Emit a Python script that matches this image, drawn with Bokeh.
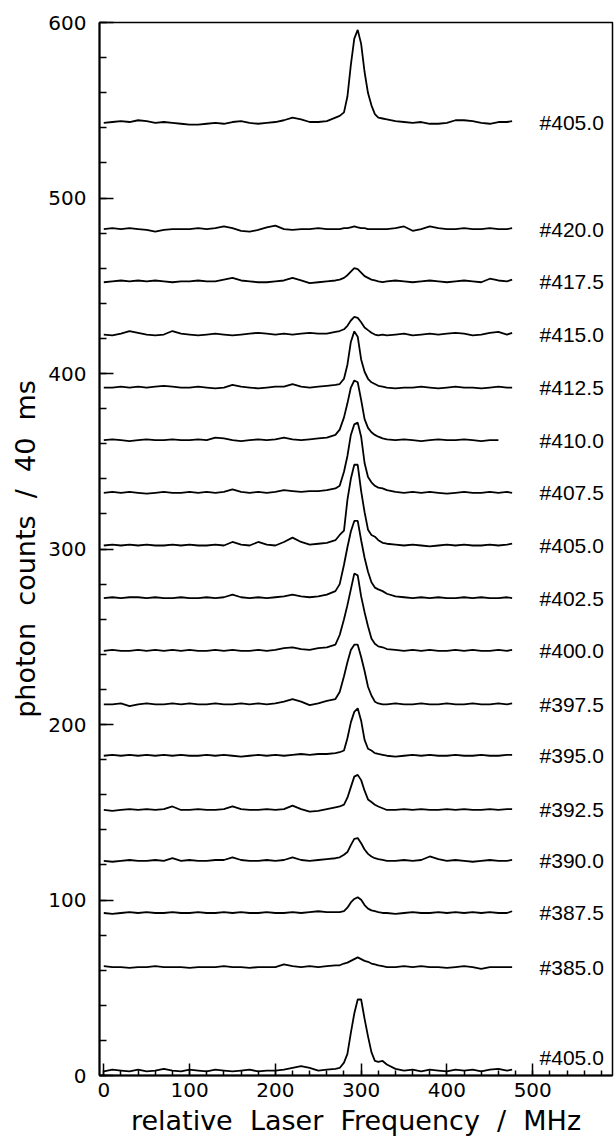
from bokeh.plotting import figure
from bokeh.models import Range1d, SingleIntervalTicker, ColumnDataSource
from bokeh.core.properties import value
from bokeh.embed import file_html
from bokeh.resources import INLINE

nan = float("nan")

# relative laser frequency (MHz) sample points
freq = [0, 10, 20, 30, 40, 50, 60, 70, 80, 90, 100, 110, 120, 130, 140, 150, 160, 170, 180, 190,
        200, 210, 220, 230, 240, 250, 260, 270,
        275, 280, 284, 288, 292, 296, 300, 304, 308, 312, 316, 320, 325,
        330, 340, 350, 360, 370, 380, 390, 400, 410, 420, 430, 440, 450, 460, 470, 476]

# run labels (top to bottom) and trace baselines (photon counts)
labels = ["#405.0", "#420.0", "#417.5", "#415.0", "#412.5", "#410.0", "#407.5", "#405.0",
          "#402.5", "#400.0", "#397.5", "#395.0", "#392.5", "#390.0", "#387.5", "#385.0", "#405.0"]
baselines = [542.8, 482.3, 452.5, 422.2, 392.0, 362.0, 332.0, 302.0,
             272.0, 242.0, 211.5, 182.2, 151.3, 122.3, 92.6, 61.8, 2.3]

# counts above baseline for each run
run_405_0_top = [0, 0.5, 1, 0.5, 1.5, 1, 0, 0.5, 0, -0.5, -1, -1, -0.5, 0, -0.5, 0.5, 1, 0, -0.5, 0,
                 0.5, 1.5, 3, 2, 0.5, 0.5, 1, 3,
                 4, 6, 15, 33, 48, 53, 45, 29, 17, 10, 5, 3, 2.5,
                 2, 1, 0.5, 0, 0.5, -0.5, -0.5, 0, 1.5, 1.5, 1, 0, -0.5, 0.5, 0.5, 1]
run_420_0 = [0, 0.5, 0, 0.5, 0, -0.5, -1.5, -0.5, 0, 0, 0, 0.5, 0, 0.5, 1.5, 0.5, -1, -1.5, -0.5, 1,
             2, 0, -0.5, 0, 0, 0.5, 0, 0,
             0, 0.5, 0.5, 1, 1.5, 1, 0.5, 0.5, 0, 0, 0, 0, 0,
             0, 0.5, 1.5, -1, 0, 1.5, 0.5, 0, 0, 0.5, 0, 0, 0.5, 0, 0, 0.5]
run_417_5 = [-0.5, 0, 0.5, 0, 0.5, 0, 0.5, 0, -0.5, 0, 0, 0.5, 0, 0, 1, 2, 0.5, 0, -0.5, -0.5,
             0, 0.5, 2, 0.5, -1, -0.5, 0, 0.5,
             1, 2, 3.5, 5.5, 7.5, 7, 5, 3, 2, 1, 0.5, 0, -0.5,
             0, 0.5, 0, -0.5, 0, 0.5, 0, -0.5, 0, 0.5, 0, -0.5, 1.5, 0.5, 0, 1]
run_415_0 = [0, -0.5, 0.5, 2, 1, 0, -0.5, 0, 2, 0.5, 0, -0.5, 0, 0.5, 0, -0.5, 0, 0.5, 1, 0.5,
             0, 0.5, 0, 0.5, 1, 0.5, 0.5, 1.5,
             2, 3, 5, 8, 10, 9.5, 7, 4, 2.5, 1, 0, -0.5, 0,
             -0.5, 0, 0.5, -0.5, 0, 0.5, 0, 0.5, 1, 0.5, -0.5, 0, 1, 1.5, 0, 1]
run_412_5 = [0, 0, 0.5, 0, 0.5, 0, 0.5, 1, 0.5, 0, 0, 0.5, 0, -0.5, 0, 1.5, 0.5, 0, -0.5, 0,
             0.5, 0.5, 2, 0.5, 0, 0.5, 1, 1.5,
             2, 5, 13, 26, 32, 29, 16, 9, 5, 3, 2, 1, 0.5,
             0, -0.5, 0, 0, 0.5, 0, -0.5, 0, 0.5, 0, 0, -0.5, 0, 0.5, 0, 0]
run_410_0 = [0, 0.5, 0, -0.5, 0, 0.5, 0, 0, 0.5, 0, 0, 0.5, 0, 1.5, 1, 0, -0.5, 0, 0.5, 0,
             0.5, 1.5, 0.5, 0, 0.5, 1, 1.5, 3,
             6, 13, 21, 30, 34, 33, 23, 12, 7, 4.5, 3, 2, 1,
             0.5, 0, 0.5, 0, -0.5, 0, 0.5, 0, 0, 0.5, 0, -0.5, 0, 0, nan, nan]
run_407_5 = [0, 0.5, 0, 0.5, 0, -0.5, 0, 0.5, 0, 0, 0.5, 0, 0.5, 0, 0.5, 2, 0.5, 0, 0.5, 0,
             0.5, 1.5, 1, 0.5, 1, 1, 1.5, 2.5,
             4, 12, 21, 33, 39, 40, 32, 17, 9, 6, 4, 3, 2.5,
             1.5, 0.5, 0, 0.5, 0, 0.5, 0, -0.5, 0, 0.5, 0, 0, 0.5, 0, 0.5, 0]
run_405_0 = [0, 0.5, 0, 0.5, 0, 0.5, 0, 0, 0.5, 0, 0.5, 0, 0, 0.5, 0, 2, 0.5, 0, 2, 0.5,
             0, 2, 4.5, 2, 0.5, 1, 1.5, 3,
             6, 8.5, 26, 38, 46, 46, 31, 19, 9, 6, 5, 3, 1.5,
             1, 0.5, 0, 0.5, 0, -0.5, 0, 0.5, 0, 0.5, 0, 0, 0.5, 0, 0.5, 1]
run_402_5 = [0, 0.5, 0, 0.5, 0.5, 0, 0.5, 0, 0, 0.5, 0, 0, 0.5, 0, 0.5, 2, 0.5, 0, 0.5, 0,
             0.5, 1, 2, 1, 0.5, 1, 2, 4,
             8, 19, 29, 38, 44, 44, 33, 23, 15, 9, 6, 5, 4,
             2.5, 1, 0.5, 0, 0.5, 0, 0.5, 0, 0, 0.5, 0, 0.5, 0, 0, 0.5, 0]
run_400_0 = [0, 0.5, 0, 0, 0.5, 0, 0.5, 0, 0.5, 0, 0.5, 0, 0, 0.5, 0, 0.5, 0, 0, 0.5, 0,
             0.5, 1.5, 2, 1, 0.5, 1.5, 2, 3.5,
             9, 18, 26, 35, 44, 43, 31, 22, 14, 7, 4, 2.5, 2,
             1, 0.5, 0, 0.5, 0, 0.5, 0, 0, 0.5, 0, 0.5, 0, 0, 0.5, 0, 0.5]
run_397_5 = [0, 0, 0.5, -1, 0, 0.5, 0, 0, 0.5, 0, 0.5, 0, 0, 0.5, 0, 0, 0.5, 0, 0.5, 0,
             0.5, 1.5, 3, 1.5, -0.5, 0.5, 2, 3,
             7, 16, 24, 31, 34, 34, 27, 19, 10, 5, 1.5, 0.5, 0,
             0, 0.5, 0, 0, 0.5, 0, 0, 0.5, 0, 0, 0.5, 0, 0, 0.5, 0, 0.5]
run_395_0 = [0, 0.5, 0, 0.5, 0, 0.5, 0, 0.5, 0, 0.5, 0, 0, 0.5, 0, 0.5, 0, -0.5, 0, 0.5, 0,
             0.5, 0, 0.5, 1, 0.5, 1, 1, 1.5,
             2, 3, 10, 19, 25, 27, 20, 9, 4, 3, 1.5, 1, 0.5,
             0, -0.5, 0, 0.5, 0, 0.5, 0, 0, 0.5, 0, 0, 0.5, 0, 0, 0.5, 0.5]
run_392_5 = [0, -0.5, 0, 0.5, 0, 0.5, 0, 0.5, 2, 0, 0, 0.5, 0, 0, 0.5, 2, 0.5, 0, 0, 0.5,
             0, 0.5, 2.5, 0.5, -1, -0.5, 0.5, 1.5,
             2, 3, 7, 13, 19, 20, 17, 11, 6, 4.5, 3, 2, 1,
             0, 0, 0.5, 0, 0.5, 0, 0, 0.5, 0, 0.5, 0, 0, 0.5, 0, 0.5, 0.5]
run_390_0 = [0, -0.5, 0, 0.5, 0, 0, 0.5, 0, 1.5, 0, 0.5, 0, 0, 0.5, 0.5, 2, 0.5, 0, 0, 0.5,
             0, 0.5, 2, 0.5, 0, 0.5, 1, 1.5,
             2, 3.5, 5, 9, 12.5, 13, 10, 6.5, 4, 2.5, 1.5, 1, 0.5,
             0, 0, 0.5, 0, 0.5, 2.5, 1, 0, 0.5, 0, -0.5, 0, 0.5, 0, 0, 0.5]
run_387_5 = [0, -0.5, 0, 0.5, 0, 0.5, 0, 0, 0.5, 0, 0, 0.5, 0, 0, 0.5, 0, 0.5, 0, 0, 0.5,
             0, 0, 0.5, 0, 0.5, 1, 0.5, 0.5,
             0.5, 1, 3, 6, 8, 9, 7.5, 4.5, 2.5, 1.5, 1, 0.5, 0,
             0, -0.5, 0, 0.5, 0, 0, 0.5, 0, 0.5, 0, 0.5, 0, 0.5, 0, 0, 1]
run_385_0 = [0.5, 0, 0, -0.5, 0, 0, 0.5, 0, 0, 0, -0.5, 0, 0, 0, 0.5, 0, 0, -0.5, 0, 0,
             0, 1.5, 0.5, 0, 0.5, 0, 0.5, 1,
             1, 2, 2.5, 3.5, 4.5, 5.5, 4.5, 3.5, 3, 2, 1.5, 1, 0.5,
             0, 0, 0.5, 0, 0.5, 0, 0, -0.5, 0, 0.5, 0, -1, 0, 0, 0, 0]
run_405_0_bottom = [0, 1, 0.5, 0, 1, 0, 0.5, 1.5, 0.5, 0, 1, 0.5, 0, 1, 0.5, 0, 0.5, 1, 0, 0.5,
                    0.5, 1, 2, 3, 2, 0.5, 1, 1.5,
                    2, 5, 10, 22, 33, 41, 41, 30, 20, 11, 6, 5.5, 6,
                    4, 1.5, 0.5, 1, 0, 1, 0.5, 0, 1, 0.5, 1, 0, 1, 1.5, 0.5, 1]

runs = [run_405_0_top, run_420_0, run_417_5, run_415_0, run_412_5, run_410_0, run_407_5,
        run_405_0, run_402_5, run_400_0, run_397_5, run_395_0, run_392_5, run_390_0,
        run_387_5, run_385_0, run_405_0_bottom]

p = figure(width=614, height=1138, output_backend="svg", toolbar_location=None,
           x_range=Range1d(-5, 593), y_range=Range1d(0, 600),
           min_border_left=99, min_border_right=2, min_border_top=22, min_border_bottom=60)
p.background_fill_color = "white"
p.border_fill_color = "white"
p.grid.visible = False
p.outline_line_color = "black"
p.outline_line_width = 1.5

for base, run in zip(baselines, runs):
    ys = [base + v for v in run]
    p.line(freq, ys, line_color="black", line_width=1.8)

label_y = list(baselines)
label_y[-1] = baselines[-1] + 8
src = ColumnDataSource(dict(x=[508] * len(labels), y=label_y, text=labels))
p.text(x="x", y="y", text="text", source=src, text_font=value("Liberation Sans"),
       text_font_size="21px", text_align="left", text_baseline="middle", text_color="black")

p.xaxis.ticker = SingleIntervalTicker(interval=100, num_minor_ticks=5)
p.yaxis.ticker = SingleIntervalTicker(interval=100, num_minor_ticks=5)

for ax in (p.xaxis, p.yaxis):
    ax.axis_line_width = 2
    ax.axis_line_color = "black"
    ax.major_tick_out = 0
    ax.minor_tick_out = 0
    ax.major_tick_line_width = 1.5
    ax.minor_tick_line_width = 1.5
    ax.major_label_text_font = "DejaVu Sans"
    ax.major_label_text_font_size = "20px"
    ax.major_label_text_color = "black"
    ax.axis_label_text_font = "DejaVu Sans"
    ax.axis_label_text_font_style = "normal"
    ax.axis_label_text_color = "black"

p.yaxis.major_tick_in = 14
p.yaxis.minor_tick_in = 7
p.xaxis.major_tick_in = 12
p.xaxis.minor_tick_in = 5

p.yaxis.major_label_standoff = 13
p.xaxis.major_label_standoff = 7
p.yaxis.axis_label_standoff = 4
p.xaxis.axis_label_standoff = 5

p.yaxis.axis_label = "photon\u00a0 counts\u00a0 /\u00a0 40\u00a0 ms"
p.xaxis.axis_label = "relative\u00a0 Laser\u00a0 Frequency\u00a0 /\u00a0 MHz"
p.yaxis.axis_label_text_font_size = "27px"
p.xaxis.axis_label_text_font_size = "27px"

open("out.html", "w").write(file_html(p, INLINE))
